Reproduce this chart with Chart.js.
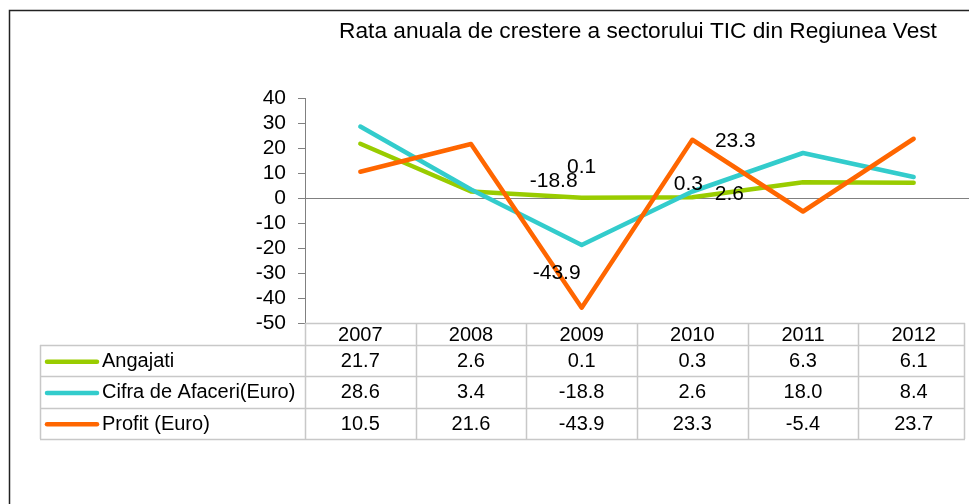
<!DOCTYPE html>
<html>
<head>
<meta charset="utf-8">
<script src="https://cdn.jsdelivr.net/npm/chart.js@4.4.1/dist/chart.umd.min.js"></script>
<style>
  html, body { margin: 0; padding: 0; background: #fff; }
  #wrap { width: 969px; height: 504px; position: relative; }
</style>
</head>
<body>
<div id="wrap"><canvas id="myChart" width="969" height="504"></canvas></div>
<script>
// date din imagine: rata anuala de crestere (%)
const ani = ["2007", "2008", "2009", "2010", "2011", "2012"];
const angajati = [21.7, 2.6, 0.1, 0.3, 6.3, 6.1];
const cifraAfaceri = [28.6, 3.4, -18.8, 2.6, 18.0, 8.4];
const profit = [10.5, 21.6, -43.9, 23.3, -5.4, 23.7];
const numeSerii = ["Angajati", "Cifra de Afaceri(Euro)", "Profit (Euro)"];
const culori = ["#99cc00", "#33cccc", "#ff6600"];
const yMin = -50, yMax = 40, yPas = 10;
const titlu = "Rata anuala de crestere a sectorului TIC din Regiunea Vest";

// etichetele de date vizibile in original (serie, an) + deplasare fata de punct
const etichete = [
  { serie: 1, idx: 2, dx: -28, dy: -64 },
  { serie: 0, idx: 2, dx: 0, dy: -31 },
  { serie: 2, idx: 2, dx: -25, dy: -35 },
  { serie: 0, idx: 3, dx: -4, dy: -13 },
  { serie: 1, idx: 3, dx: 37, dy: 3 },
  { serie: 2, idx: 3, dx: 43, dy: 1 }
];

const FONT = '"Liberation Sans", Arial, sans-serif';
const serii = [angajati, cifraAfaceri, profit];

const tabelPlugin = {
  id: "tabelDate",
  beforeDraw(chart) {
    const c = chart.ctx;
    c.save();
    c.fillStyle = "#fff";
    c.fillRect(0, 0, chart.width, chart.height);
    c.strokeStyle = "#222";
    c.lineWidth = 1.5;
    c.strokeRect(9.5, 10.5, chart.width + 50, chart.height + 50);
    c.restore();
  },
  beforeDatasetsDraw(chart) {
    const c = chart.ctx;
    const a = chart.chartArea;
    const y0 = Math.round(chart.scales.y.getPixelForValue(0)) + 0.5;
    c.save();
    c.strokeStyle = "#808080";
    c.lineWidth = 1;
    c.beginPath();
    c.moveTo(a.left, y0);
    c.lineTo(a.right, y0);
    c.stroke();
    c.restore();
  },
  afterDatasetsDraw(chart) {
    const c = chart.ctx;
    const a = chart.chartArea;
    const x = chart.scales.x;
    const y = chart.scales.y;
    c.save();

    // titlu
    c.fillStyle = "#000";
    c.font = "22.7px " + FONT;
    c.textAlign = "center";
    c.textBaseline = "middle";
    c.fillText(titlu, 638, 32);

    // etichete de date
    c.font = "21px " + FONT;
    etichete.forEach(e => {
      const v = serii[e.serie][e.idx];
      const px = x.getPixelForValue(e.idx) + e.dx;
      const py = y.getPixelForValue(v) + e.dy;
      c.fillText(v.toFixed(1), px, py);
    });

    // tabel de date
    const colW = a.width / ani.length;
    const dreapta = Math.min(a.right, chart.width - 4);
    const stanga = 40;
    const top = a.bottom;
    const hCap = 22;
    const hRand = 31.3;
    const jos = top + hCap + hRand * 3;
    c.strokeStyle = "#c8c8c8";
    c.lineWidth = 1.5;
    c.beginPath();
    c.moveTo(a.left, top + 0.5);
    c.lineTo(dreapta, top + 0.5);
    for (let r = 0; r <= 3; r++) {
      const yy = Math.round(top + hCap + r * hRand) + 0.5;
      c.moveTo(stanga, yy);
      c.lineTo(dreapta, yy);
    }
    c.moveTo(stanga + 0.5, top + hCap);
    c.lineTo(stanga + 0.5, jos);
    for (let i = 0; i <= ani.length; i++) {
      const xx = Math.round(a.left + i * colW) + 0.5;
      if (xx > dreapta + 1) continue;
      c.moveTo(xx, top);
      c.lineTo(xx, jos);
    }
    c.moveTo(dreapta - 0.5, top);
    c.lineTo(dreapta - 0.5, jos);
    c.stroke();

    c.fillStyle = "#000";
    c.font = "20px " + FONT;
    ani.forEach((an, i) => {
      c.fillText(an, x.getPixelForValue(i), top + hCap / 2 + 1);
    });
    serii.forEach((date, r) => {
      const cy = top + hCap + r * hRand + hRand / 2 + 1;
      c.strokeStyle = culori[r];
      c.lineWidth = 4.5;
      c.lineCap = "round";
      c.beginPath();
      c.moveTo(47, cy);
      c.lineTo(97, cy);
      c.stroke();
      c.textAlign = "left";
      c.fillText(numeSerii[r], 102, cy);
      c.textAlign = "center";
      date.forEach((v, i) => {
        c.fillText(v.toFixed(1), x.getPixelForValue(i), cy);
      });
    });
    c.restore();
  }
};

document.addEventListener("DOMContentLoaded", () => {
  const ctx = document.getElementById("myChart");

  new Chart(ctx, {
    type: "line",
    data: {
      labels: ani,
      datasets: serii.map((date, i) => ({
        label: numeSerii[i],
        data: date,
        borderColor: culori[i],
        backgroundColor: culori[i],
        borderWidth: 4.5,
        pointRadius: 0,
        tension: 0,
        borderCapStyle: "round",
        borderJoinStyle: "round",
        fill: false,
        order: 3 - i
      }))
    },
    options: {
      responsive: false,
      animation: false,
      devicePixelRatio: 1,
      layout: { padding: { left: 0, right: -3, top: 98, bottom: 181 } },
      plugins: {
        legend: { display: false },
        title: { display: false },
        tooltip: { enabled: false }
      },
      scales: {
        x: { display: false, offset: true },
        y: {
          min: yMin,
          max: yMax,
          afterFit(scale) { scale.width = 305; },
          ticks: {
            stepSize: yPas,
            autoSkip: false,
            color: "#000",
            padding: 12,
            font: { size: 21, family: FONT }
          },
          grid: {
            drawOnChartArea: false,
            drawTicks: true,
            tickLength: 7,
            color: "#808080"
          },
          border: { display: true, color: "#808080", width: 1 }
        }
      }
    },
    plugins: [tabelPlugin]
  });
});
</script>
</body>
</html>
